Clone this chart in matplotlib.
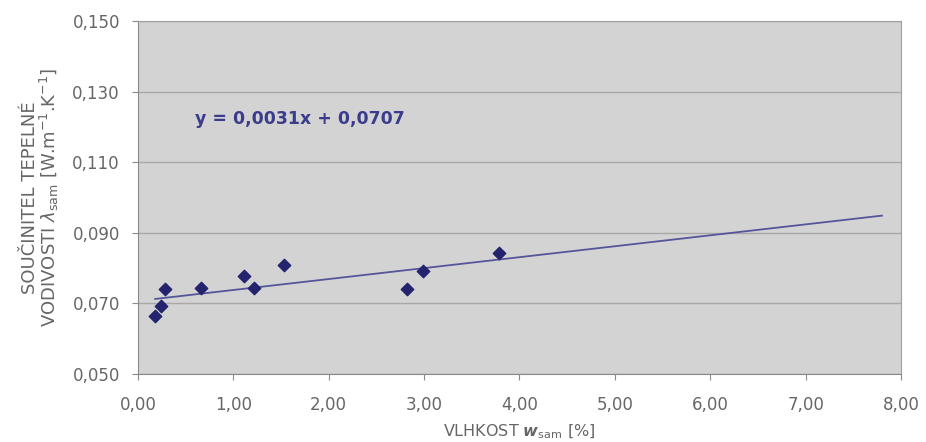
import matplotlib.pyplot as plt
import numpy as np

plt.rcParams['font.family'] = ['DejaVu Sans']

# moisture [%] and thermal conductivity [W/m.K]
vlhkost = [0.18, 0.24, 0.28, 0.66, 1.11, 1.22, 1.53, 2.82, 2.99, 3.78]
lambda_sam = [0.0664, 0.0693, 0.0741, 0.0744, 0.0778, 0.0744, 0.0809, 0.0741, 0.0792, 0.0843]
trend_k = 0.0031
trend_q = 0.0707
trend_x = [0.18, 7.8]
x_ticks = [0, 1, 2, 3, 4, 5, 6, 7, 8]
y_ticks = [0.050, 0.070, 0.090, 0.110, 0.130, 0.150]

fig = plt.figure(figsize=(9.26, 4.42), dpi=100)
ax = fig.add_axes([0.149, 0.154, 0.824, 0.798])
ax.set_facecolor("#d3d3d3")

tx = np.array(trend_x)
ax.plot(tx, trend_k * tx + trend_q, color="#55559a", lw=1.3, zorder=2)
ax.scatter(vlhkost, lambda_sam, marker="D", s=40, color="#23236e", zorder=3)

ax.set_xlim(0, 8)
ax.set_ylim(0.05, 0.15)
ax.set_xticks(x_ticks)
ax.set_yticks(y_ticks)
ax.set_xticklabels([("%.2f" % v).replace(".", ",") for v in x_ticks])
ax.set_yticklabels([("%.3f" % v).replace(".", ",") for v in y_ticks])
ax.yaxis.grid(True, color="#a8a8a8", lw=1)
ax.set_axisbelow(True)

for s in ["top", "right"]:
    ax.spines[s].set_color("#a0a0a0")
for s in ["left", "bottom"]:
    ax.spines[s].set_color("#8a8a8a")
ax.tick_params(colors="#8a8a8a", labelcolor="#666666", labelsize=12, length=4)
ax.tick_params(axis="x", pad=12)
ax.tick_params(axis="y", pad=9)

ax.set_xlabel(r"VLHKOST $\boldsymbol{w}_{\rm sam}$ [%]", color="#666666", fontsize=11.5, labelpad=6)
ax.set_ylabel("SOUČINITEL TEPELNÉ\n" + r"VODIVOSTI $\lambda_{\rm sam}$ [W.m$^{-1}$.K$^{-1}$]",
              color="#666666", fontsize=13, labelpad=8, linespacing=0.95)

ax.text(0.6, 0.1208, "y = 0,0031x + 0,0707", color="#3c3c8c", fontsize=12.5, fontweight="bold")

fig.savefig("out.png", dpi=100, facecolor="white")
